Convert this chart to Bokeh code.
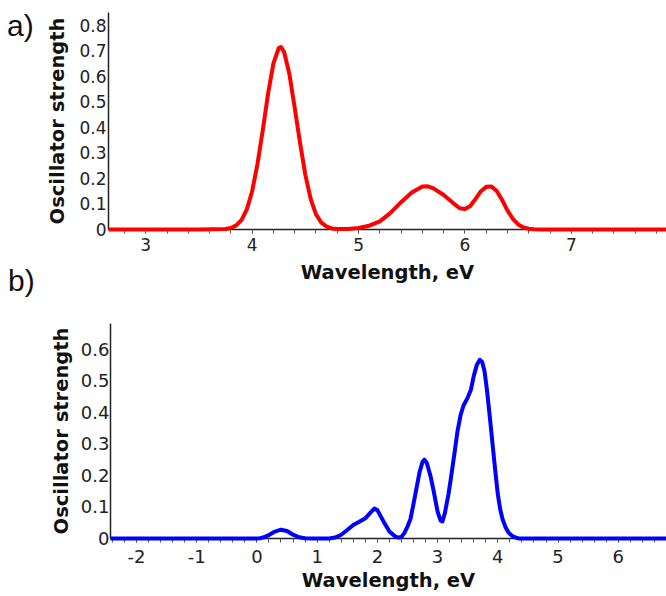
import numpy as np
from bokeh.plotting import figure
from bokeh.layouts import column, row
from bokeh.models import FixedTicker, CustomJSTickFormatter, Range1d, Div
from bokeh.embed import file_html
from bokeh.resources import INLINE

# ---- data ----
top_x = [2.65, 3.0, 3.5, 3.75, 3.8, 3.85, 3.9, 3.95, 4.0, 4.05, 4.1, 4.15, 4.2, 4.25, 4.27,
         4.3, 4.35, 4.4, 4.45, 4.5, 4.55, 4.6, 4.65, 4.7, 4.75, 4.8, 4.9, 5.0, 5.1, 5.2,
         5.3, 5.4, 5.5, 5.6, 5.65, 5.7, 5.8, 5.9, 5.95, 6.0, 6.05, 6.1, 6.15, 6.2, 6.25,
         6.3, 6.35, 6.4, 6.45, 6.5, 6.55, 6.6, 6.65, 6.7, 7.0, 7.5, 7.9]
top_y = [0, 0, 0, 0.002, 0.006, 0.016, 0.037, 0.079, 0.150, 0.256, 0.390, 0.533, 0.651, 0.711, 0.715,
         0.696, 0.609, 0.477, 0.340, 0.214, 0.120, 0.059, 0.027, 0.011, 0.004, 0.002, 0.002, 0.006, 0.015, 0.032,
         0.065, 0.107, 0.145, 0.168, 0.169, 0.162, 0.135, 0.100, 0.083, 0.080, 0.092, 0.120, 0.150, 0.167, 0.168,
         0.150, 0.115, 0.074, 0.042, 0.020, 0.008, 0.003, 0.001, 0, 0, 0, 0]

bot_x = [-2.43, -1.0, 0.0, 0.05, 0.1, 0.2, 0.3, 0.4, 0.5, 0.6, 0.7, 0.8, 0.9, 1.2, 1.3, 1.4,
         1.5, 1.6, 1.7, 1.8, 1.9, 1.95, 2.0, 2.1, 2.2, 2.3, 2.35, 2.4, 2.45, 2.5, 2.55, 2.6,
         2.65, 2.7, 2.75, 2.78, 2.82, 2.88, 2.93, 3.0, 3.05, 3.08, 3.12, 3.18, 3.22, 3.28,
         3.33, 3.38, 3.43, 3.5, 3.55, 3.6, 3.65, 3.7, 3.74, 3.78, 3.82, 3.87, 3.92, 3.96,
         4.0, 4.04, 4.08, 4.13, 4.18, 4.24, 4.3, 4.35, 5.0, 6.8]
bot_y = [0, 0, 0, 0.001, 0.003, 0.011, 0.022, 0.028, 0.024, 0.012, 0.004, 0.001, 0, 0, 0.003, 0.012,
         0.027, 0.043, 0.053, 0.064, 0.085, 0.095, 0.090, 0.055, 0.022, 0.006, 0.003, 0.005, 0.018, 0.038, 0.062, 0.110,
         0.160, 0.210, 0.243, 0.250, 0.240, 0.200, 0.155, 0.085, 0.057, 0.054, 0.080, 0.140, 0.190, 0.270,
         0.340, 0.390, 0.422, 0.447, 0.470, 0.515, 0.550, 0.567, 0.560, 0.530, 0.470, 0.380, 0.285, 0.210,
         0.140, 0.092, 0.060, 0.035, 0.018, 0.008, 0.003, 0, 0, 0]

top_xticks = [3, 4, 5, 6, 7]
top_yticks = [0, 0.1, 0.2, 0.3, 0.4, 0.5, 0.6, 0.7, 0.8]
bot_xticks = [-2, -1, 0, 1, 2, 3, 4, 5, 6]
bot_yticks = [0, 0.1, 0.2, 0.3, 0.4, 0.5, 0.6]
x_title = "Wavelength, eV"
y_title = "Oscillator strength"
panel_labels = ["a)", "b)"]

AX = "#222222"
FONT = "DejaVu Sans"


def make(width, xr, yr, xticks, yticks, height, bl, bt, bb,
         tick_fs, x_std, x_lab_std, y_std, y_lab_std):
    p = figure(width=width, height=height, x_range=Range1d(*xr), y_range=Range1d(*yr),
               output_backend="svg", toolbar_location=None,
               min_border_left=bl, min_border_right=0, min_border_top=bt, min_border_bottom=bb)
    p.outline_line_color = None
    p.xgrid.visible = False
    p.ygrid.visible = False
    p.background_fill_color = "white"
    p.border_fill_color = "white"

    start = np.ceil(xr[0] / 0.2) * 0.2
    minors = [round(v, 1) for v in np.arange(start, xr[1], 0.2)]
    p.xaxis.ticker = FixedTicker(ticks=xticks, minor_ticks=minors)
    p.xaxis.formatter = CustomJSTickFormatter(code="return tick.toFixed(0);")
    p.yaxis.ticker = FixedTicker(ticks=yticks, minor_ticks=[])
    p.yaxis.formatter = CustomJSTickFormatter(code="return tick.toFixed(1).replace(/\\.0$/, '');")

    for ax in (p.xaxis, p.yaxis):
        ax.axis_line_color = AX
        ax.axis_line_width = 1.5
        ax.major_tick_line_color = "#555555"
        ax.minor_tick_line_color = "#555555"
        ax.major_tick_in = 0
        ax.minor_tick_in = 0
        ax.major_label_text_font = FONT
        ax.major_label_text_font_size = tick_fs
        ax.major_label_text_color = AX
        ax.axis_label_text_font = FONT
        ax.axis_label_text_font_style = "bold"
        ax.axis_label_text_font_size = "19.5px"
        ax.axis_label_text_color = "#111111"

    p.xaxis.major_tick_out = 4
    p.xaxis.minor_tick_out = 4
    p.xaxis.major_label_standoff = x_std
    p.xaxis.axis_label = x_title
    p.xaxis.axis_label_standoff = x_lab_std
    p.yaxis.major_tick_out = 0
    p.yaxis.minor_tick_out = 0
    p.yaxis.major_label_standoff = y_std
    p.yaxis.axis_label = y_title
    p.yaxis.axis_label_standoff = y_lab_std
    return p


top = make(626, (2.65, 7.894), (0, 0.85), top_xticks, top_yticks, 302, 68, 12, 73,
           "17px", 4, 7, 2, 7)
r1 = top.line(top_x, top_y, line_color="#ff0000", line_width=4, line_join="round")
r1.level = "overlay"

bot = make(666, (-2.43, 6.80), (0, 0.682), bot_xticks, bot_yticks, 294, 110, 21, 58,
           "18px", 7, 3, 1, 5)
r2 = bot.line(bot_x, bot_y, line_color="#0000ff", line_width=4, line_join="round")
r2.level = "overlay"

span = ("position:absolute;left:{}px;top:{}px;font-family:'Liberation Sans';"
        "font-size:30px;line-height:1;color:#111111;white-space:nowrap;")
html = ('<div style="position:relative;width:40px;height:302px;">'
        '<span style="' + span.format(7, 11) + '">' + panel_labels[0] + '</span>'
        '<span style="' + span.format(8, 266) + '">' + panel_labels[1] + '</span>'
        '</div>')
side = Div(text=html, width=40, height=302, margin=(0, 0, 0, 0))

layout = column(row(side, top, spacing=0), bot, spacing=0)
open("out.html", "w").write(file_html(layout, INLINE))
